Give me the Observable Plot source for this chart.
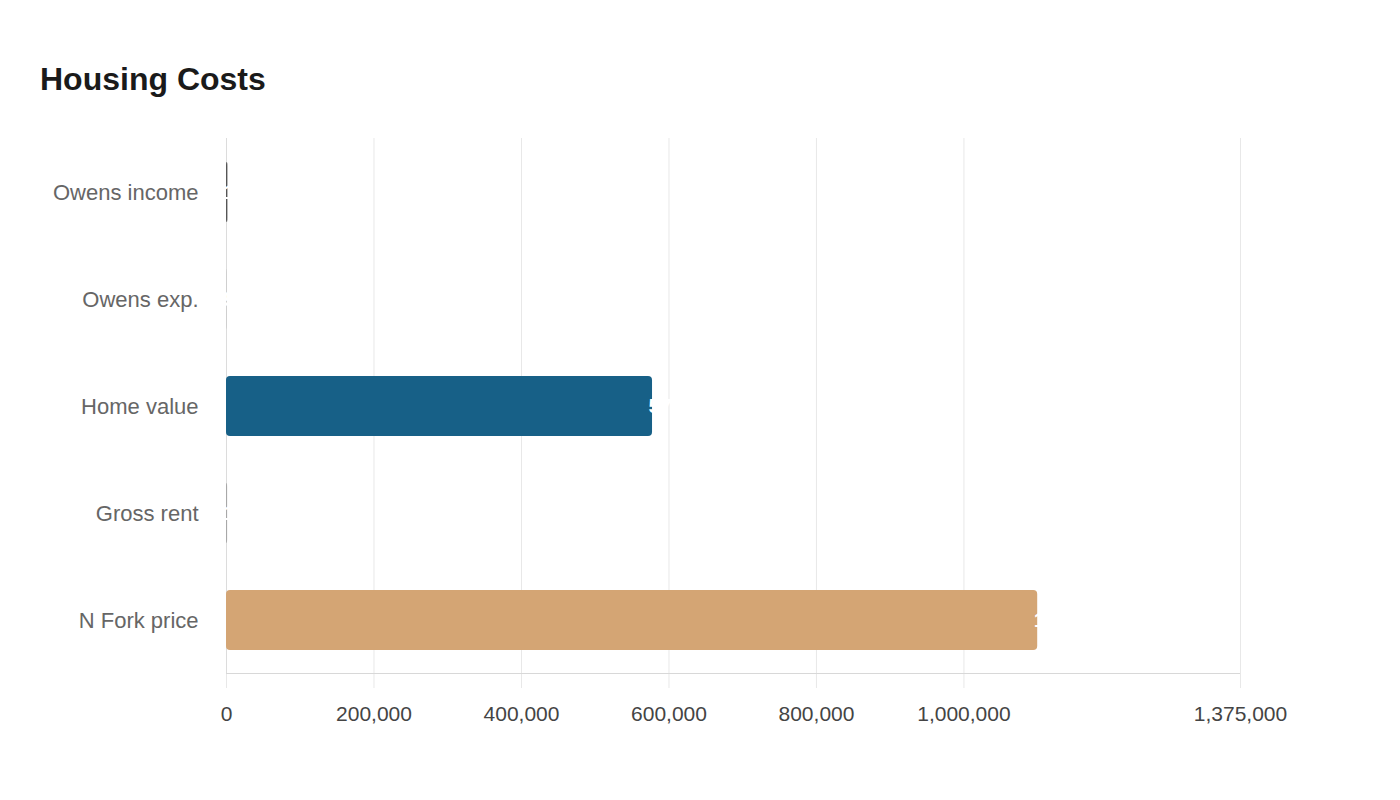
<!DOCTYPE html>
<html>
<head>
<meta charset="utf-8">
<script src="https://cdn.jsdelivr.net/npm/d3@7"></script>
<script src="https://cdn.jsdelivr.net/npm/@observablehq/plot@0.6"></script>
<style>
  html, body { margin: 0; padding: 0; background: #fff; }
  body { width: 1400px; height: 800px; overflow: hidden; font-family: "Liberation Sans", Arial, sans-serif; }
  #title { position: absolute; left: 40px; top: 63px; font-size: 32px; font-weight: bold; color: #1a1a1a; line-height: 1; }
  #chart { position: absolute; left: 0; top: 120px; }
</style>
</head>
<body>
<div id="title">Housing Costs</div>
<div id="chart"></div>
<script>
const categories = ["Owens income", "Owens exp.", "Home value", "Gross rent", "N Fork price"];
const values = [1900, 900, 577700, 1500, 1100000];
const colors = ["#555555", "#c8c8c8", "#176087", "#a8a8a8", "#D4A574"];
const xTicks = [0, 200000, 400000, 600000, 800000, 1000000, 1375000];

const data = categories.map((c, i) => ({category: c, value: values[i], color: colors[i]}));
const fmt = d3.format(",");

const chart = Plot.plot({
  width: 1400,
  height: 640,
  marginLeft: 226,
  marginRight: 160,
  marginTop: 18,
  marginBottom: 87,
  style: {fontFamily: "Liberation Sans, Arial, sans-serif", fontSize: "21px", background: "transparent"},
  x: {domain: [0, 1375000], ticks: xTicks, tickFormat: fmt, label: null},
  y: {domain: categories, paddingInner: 0.44, paddingOuter: 0.22, label: null},
  marks: [
    Plot.gridX(xTicks, {stroke: "#e8e8e8", strokeOpacity: 1}),
    Plot.axisX({ticks: xTicks, tickFormat: fmt, tickSize: 15, stroke: "#e8e8e8", tickPadding: 18, fill: "#444", fontSize: 21}),
    Plot.axisY({tickSize: 0, tickPadding: 28, fill: "#666", fontSize: 22}),
    Plot.ruleX([0], {stroke: "#dcdcdc"}),
    Plot.frame({anchor: "bottom", stroke: "#d8d8d8", strokeDasharray: "2,1"}),
    Plot.barX(data, {x: "value", y: "category", fill: "color", rx: 4}),
    Plot.text(data, {x: "value", y: "category", text: d => fmt(d.value), fill: "white", fontWeight: "bold", fontSize: 21, textAnchor: "start", dx: -4})
  ]
});
document.getElementById("chart").appendChild(chart);
</script>
</body>
</html>
